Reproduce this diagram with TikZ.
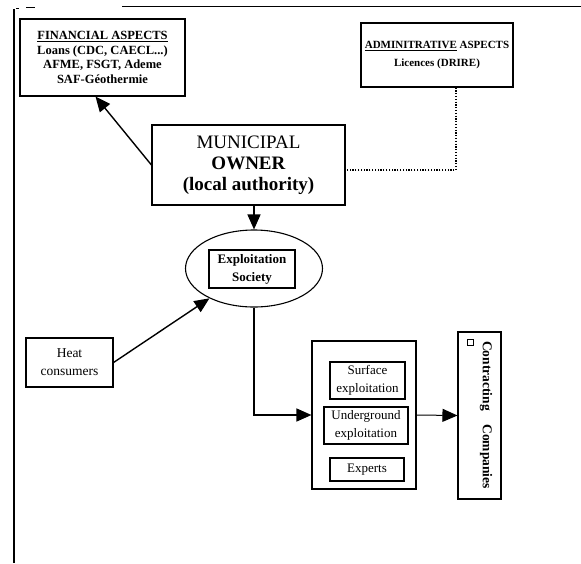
\documentclass[tikz,border=0pt]{standalone}
\usepackage{fontspec}
\setmainfont{Liberation Serif}
\usetikzlibrary{arrows.meta, shapes.geometric}

\begin{document}
\begin{tikzpicture}[
  x=1pt, y=-1pt,
  every node/.style={font=\fontsize{13}{18}\selectfont},
  box/.style={draw, line width=1.1pt, inner sep=0pt, align=center},
  arr/.style={-{Triangle[length=15pt, width=13pt]}, line width=1.4pt},
  link/.style={line width=1.2pt, dash pattern=on 1.2pt off 1.6pt}
]
  \useasboundingbox (0,0) rectangle (581,563);
  % scanned frame edges
  \draw[line width=1.1pt] (14,9) -- (14,563);
  \draw[line width=0.9pt] (122,6) -- (581,6);
  \draw[line width=0.9pt] (16,8) -- (19,8) (26,7) -- (35,7);

  % Explicit coordinates: picture in pt, y grows downwards
  \node[box, minimum width=165pt, minimum height=77pt,
        font=\bfseries\fontsize{12.5}{14.5}\selectfont] (fin) at (102.5,57.5)
        {\underline{FINANCIAL ASPECTS}\\Loans (CDC, CAECL...)\\AFME, FSGT, Ademe\\SAF-Géothermie};
  \node[box, minimum width=152pt, minimum height=64pt,
        font=\bfseries\fontsize{11}{18}\selectfont] (adm) at (437,55)
        {\underline{ADMINITRATIVE} ASPECTS\\Licences (DRIRE)};
  \node[box, minimum width=193pt, minimum height=80pt,
        font=\fontsize{19}{21}\selectfont] (owner) at (248.5,165)
        {MUNICIPAL\\\textbf{OWNER}\\\textbf{(local authority)}};

  \node[ellipse, draw, line width=1.1pt, minimum width=137pt, minimum height=77pt,
        inner sep=0pt] (soc) at (254,268.5) {};
  \node[box, minimum width=86pt, minimum height=38pt,
        font=\bfseries\fontsize{13}{18}\selectfont] (socbox) at (252,269)
        {Exploitation\\Society};

  \node[box, minimum width=87pt, minimum height=49pt,
        font=\fontsize{13.5}{18}\selectfont] (heat) at (69.5,362.5) {Heat\\consumers};

  % exploitation block and its parts
  \node[box, minimum width=104pt, minimum height=148pt] (block) at (364,415) {};
  \node[box, minimum width=75pt, minimum height=37pt] (surf) at (367.5,380.5)
        {Surface\\exploitation};
  \node[box, minimum width=84pt, minimum height=37pt] (under) at (366,425.5)
        {Underground\\exploitation};
  \node[box, minimum width=74pt, minimum height=23pt] (exp) at (367,469.5) {Experts};

  \node[box, minimum width=43pt, minimum height=167pt] (contr) at (479.5,415.5) {};
  \node[rotate=-90, font=\bfseries\fontsize{13.5}{15}\selectfont] (contrtxt) at (486,415)
        {Contracting\quad Companies};
  \node[draw, line width=0.8pt, minimum size=6pt, inner sep=0pt] (mark) at (470,342) {};

  % connectors
  \draw[arr] (owner.west) -- ([xshift=-7pt]fin.south);
  \draw[link] ([xshift=19pt]adm.south) |- ([yshift=-5pt]owner.east);
  \draw[arr] (soc.north |- owner.south) -- (soc.north);
  \draw[arr] (heat.east) -- (soc);
  \draw[arr] (soc.south) |- (block.west);
  \draw[arr, line width=1pt] (block.east) -- (contr.west);
\end{tikzpicture}
\end{document}
